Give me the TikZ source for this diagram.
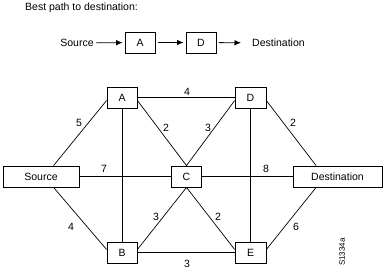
\documentclass[tikz,border=0pt]{standalone}
\usepackage{fontspec}
\setmainfont{Liberation Sans}
\usetikzlibrary{arrows.meta}

\begin{document}
\begin{tikzpicture}[x=1pt,y=-1pt,font=\fontsize{10.5}{12}\selectfont,
    box/.style={draw,line width=0.8pt,inner sep=0pt,minimum height=21pt},
    link/.style={line width=0.7pt},
    cost/.style={inner sep=0pt},
    toarrow/.style={line width=0.8pt,-{Latex[length=6.5pt,width=5.5pt]},shorten <=2.5pt,shorten >=2pt}]
    \useasboundingbox (0,0) rectangle (385,269);
    % best path
    \node[anchor=west,inner sep=0pt] (title) at (25,8) {Best path to destination:};
    \node[inner sep=0pt] (pSrc) at (77,43) {Source};
    \node[box,minimum width=30pt] (pA) at (140,42.5) {A};
    \node[box,minimum width=30pt] (pD) at (201,42.5) {D};
    \node[anchor=west,inner sep=0pt] (pDst) at (252,43) {Destination};
    \draw[toarrow] (pSrc) -- (pA);
    \draw[toarrow] (pA) -- (pD);
    \draw[toarrow,shorten >=11pt] (pD) -- (pDst);
    % network
    \node[box,minimum width=76pt] (src) at (41,176.5) {Source};
    \node[box,minimum width=30pt] (a) at (122,97.5) {A};
    \node[box,minimum width=30pt] (b) at (122,252.5) {B};
    \node[box,minimum width=30pt] (c) at (186.5,176.5) {C};
    \node[box,minimum width=31pt] (d) at (250.5,97.5) {D};
    \node[box,minimum width=31pt] (e) at (250.5,252.5) {E};
    \node[box,minimum width=89pt] (dst) at (337.5,176.5) {Destination};
    \draw[link] (a) -- (d) (b) -- (e) (src) -- (c) (c) -- (dst) (a) -- (b) (d) -- (e);
    \draw[link] (src.41) -- (a.191) (src.-41) -- (b.169)
        (a.-11) -- (c.north) (d.191) -- (c.north)
        (b.11) -- (c.south) (e.169) -- (c.south)
        (d.-11) -- (dst.153) (e.11) -- (dst.207);
    \foreach \t/\px/\py [count=\i] in {4/187/92,3/187/264,7/104/169,8/266/169,
        5/79/123,4/71/227,2/166/128,3/208/128,3/156/217,2/218/217,2/293/123,6/296/227}
        \node[cost] (w\i) at (\px,\py) {\t};
    \node[rotate=90,inner sep=0pt,font=\fontsize{8}{9}\selectfont] (fig) at (342,252) {S1334a};
\end{tikzpicture}
\end{document}
